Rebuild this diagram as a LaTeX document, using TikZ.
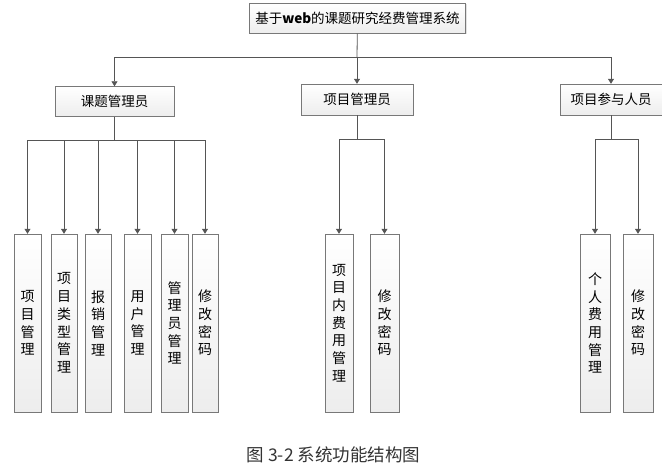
\documentclass[tikz,border=0pt]{standalone}
\usepackage{fontspec}
\setmainfont{Liberation Sans}
\newfontfamily\cjk{Noto Sans CJK SC}
\usetikzlibrary{arrows.meta,positioning,shadows}
\definecolor{LineGray}{RGB}{85,85,85}
\definecolor{BoxGray}{RGB}{120,120,120}

\tikzset{
  box/.style={draw=BoxGray,top color=white,bottom color=gray!14,
    drop shadow={shadow xshift=1pt,shadow yshift=-1pt,fill=gray!45},
    inner sep=0pt,font=\cjk\fontsize{13.5}{16}\selectfont},
  leaf/.style={box,minimum width=28pt,minimum height=178pt,align=center,
    font=\cjk\fontsize{14}{17.7}\selectfont},
  wire/.style={LineGray,line width=0.8pt},
  arr/.style={wire,-{Triangle[length=5pt,width=6pt]}}
}

\begin{document}
\begin{tikzpicture}[x=1pt,y=-1pt]
  \useasboundingbox (0,0) rectangle (662,468);
  % top level
  \node[box,minimum width=216pt,minimum height=30pt] (sys) at (357.5,18.5)
    {基于\textbf{web}的课题研究经费管理系统};
  % second level
  \node[box,minimum width=119pt,minimum height=30pt] (ktgly) at (114.5,101.5) {课题管理员};
  \node[box,minimum width=112pt,minimum height=31pt] (xmgly) at (357,99.5) {项目管理员};
  \node[box,minimum width=102pt,minimum height=31pt] (xmcy) at (611,99.5) {项目参与人员};
  \coordinate (bus) at (357,57);
  \draw[wire] (sys) -- (bus);
  \draw[arr] (bus) -| (ktgly);
  \draw[arr] (bus) -- (xmgly);
  \draw[arr] (bus) -| (xmcy);
  % leaves of 课题管理员
  \node[leaf,minimum width=27pt] (xmgl) at (27.5,323) {项\\目\\管\\理};
  \node[leaf,minimum width=26pt] (lxgl) at (64,323) {项\\目\\类\\型\\管\\理};
  \node[leaf,minimum width=26pt] (bxgl) at (98,323) {报\\销\\管\\理};
  \node[leaf,minimum width=27pt] (yhgl) at (137.5,323) {用\\户\\管\\理};
  \node[leaf,minimum width=27pt] (glygl) at (174.5,323) {管\\理\\员\\管\\理};
  \node[leaf,minimum width=26pt] (xgmm1) at (205,323) {修\\改\\密\\码};
  \coordinate (b1) at (114.5,140);
  \draw[wire] (ktgly) -- (b1);
  \foreach \n in {xmgl,lxgl,bxgl,yhgl,glygl,xgmm1}
    \draw[arr] (b1) -| (\n);
  % leaves of 项目管理员
  \node[leaf] (fygl) at (339,323) {项\\目\\内\\费\\用\\管\\理};
  \node[leaf,minimum width=29pt] (xgmm2) at (384.5,323) {修\\改\\密\\码};
  \coordinate (b2) at (357,139);
  \draw[wire] (xmgly) -- (b2);
  \foreach \n in {fygl,xgmm2}
    \draw[arr] (b2) -| (\n);
  % leaves of 项目参与人员
  \node[leaf,minimum width=30pt] (grfy) at (595,323) {个\\人\\费\\用\\管\\理};
  \node[leaf,minimum width=30pt] (xgmm3) at (638,323) {修\\改\\密\\码};
  \coordinate (b3) at (611,139);
  \draw[wire] (xmcy) -- (b3);
  \foreach \n in {grfy,xgmm3}
    \draw[arr] (b3) -| (\n);
  % caption
  \node[font=\cjk\fontsize{17.5}{20}\selectfont,text=black!80] (cap) at (333.5,455)
    {图 3-2 系统功能结构图};
\end{tikzpicture}
\end{document}
